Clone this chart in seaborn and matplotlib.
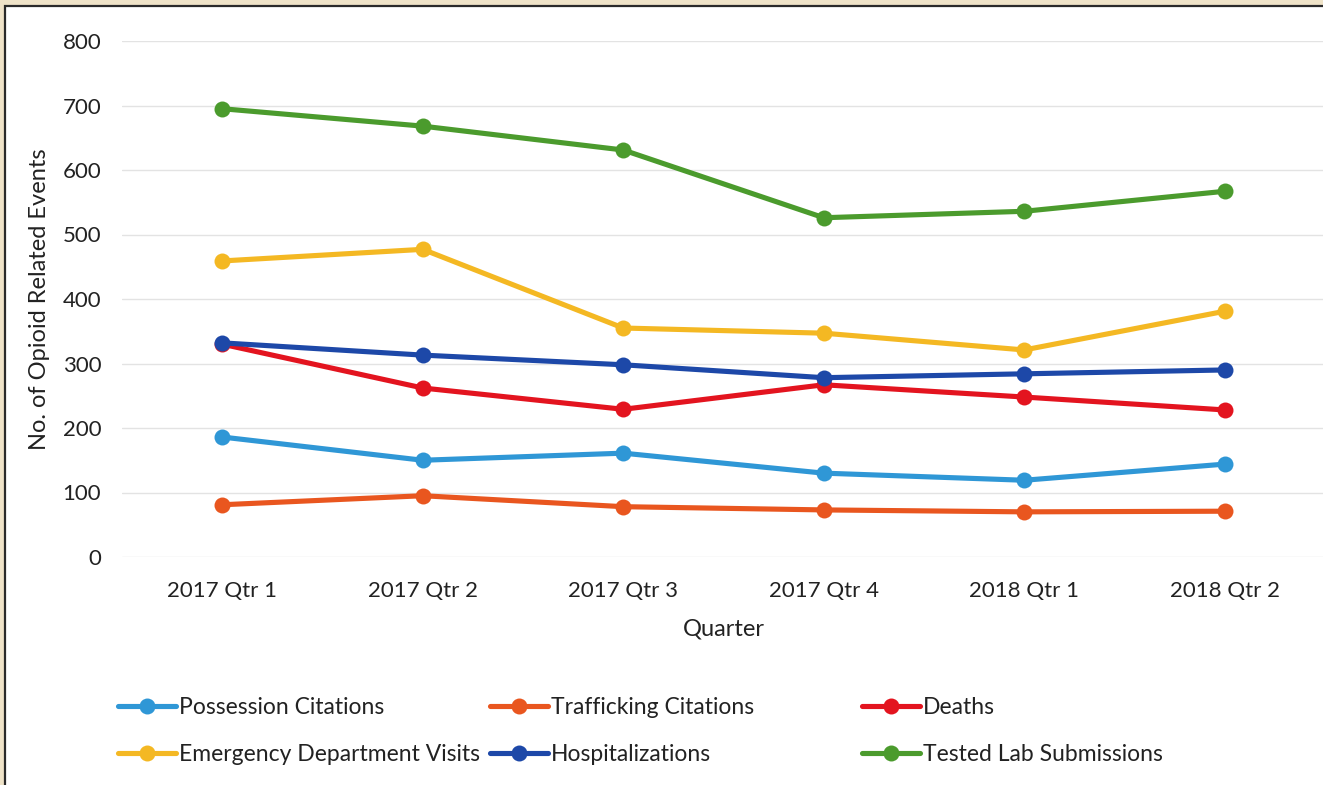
import matplotlib
matplotlib.use("Agg")
import matplotlib.pyplot as plt
from matplotlib.lines import Line2D
from matplotlib.patches import Rectangle
import pandas as pd
import seaborn as sns

quarters = ["2017 Qtr 1", "2017 Qtr 2", "2017 Qtr 3", "2017 Qtr 4", "2018 Qtr 1", "2018 Qtr 2"]

possession_citations = [186, 150, 161, 130, 119, 144]
trafficking_citations = [81, 95, 78, 73, 70, 71]
deaths = [330, 262, 229, 267, 248, 228]
ed_visits = [459, 477, 355, 347, 321, 381]
hospitalizations = [332, 313, 298, 278, 284, 290]
lab_submissions = [695, 668, 631, 526, 536, 567]

series_names = [
    "Possession Citations",
    "Trafficking Citations",
    "Deaths",
    "Emergency Department Visits",
    "Hospitalizations",
    "Tested Lab Submissions",
]
series_values = [possession_citations, trafficking_citations, deaths,
                 ed_visits, hospitalizations, lab_submissions]
series_colors = ["#2f97d6", "#e9561f", "#e3141f", "#f4b823", "#1d48a8", "#4b9b2d"]

y_ticks = [0, 100, 200, 300, 400, 500, 600, 700, 800]

rows = []
for name, vals in zip(series_names, series_values):
    for q, v in zip(quarters, vals):
        rows.append({"Quarter": q, "Events": v, "Series": name})
df = pd.DataFrame(rows)

sns.set_theme(style="white")
plt.rcParams["font.family"] = ["Lato", "DejaVu Sans"]

FS_TICK = 16
FS_LEG = 16.5
FS_LABEL = 17
TXT = "#222222"

fig = plt.figure(figsize=(13.23, 7.85), dpi=100)
fig.patch.set_facecolor("#efe3c8")

# white chart panel with a dark frame
panel = Rectangle((5 / 1323, -0.05), 1.1, (785 - 6) / 785 + 0.05,
                  transform=fig.transFigure, facecolor="white",
                  edgecolor="#2a2a2a", linewidth=1.6, zorder=-1)
fig.patches.append(panel)

ax = fig.add_axes([122 / 1323, (785 - 557) / 785, 1203 / 1323, 516 / 785])
ax.set_facecolor("none")
ax.set_zorder(1)

palette = dict(zip(series_names, series_colors))
sns.lineplot(data=df, x="Quarter", y="Events", hue="Series",
             hue_order=series_names, palette=palette, marker="o",
             markersize=11.5, markeredgewidth=0, linewidth=3.7,
             sort=False, legend=False, ax=ax)

ax.set_xlim(-0.5, len(quarters) - 0.5)
ax.set_ylim(0, 800)
ax.set_yticks(y_ticks)
ax.set_xticks(range(len(quarters)))
ax.set_xticklabels(quarters)
ax.yaxis.grid(True, color="#e3e3e3", linewidth=1.0)
ax.set_axisbelow(True)
for s in ax.spines.values():
    s.set_visible(False)
ax.tick_params(axis="both", length=0, labelsize=FS_TICK, colors=TXT)
ax.tick_params(axis="y", pad=15)
ax.tick_params(axis="x", pad=17)
ax.set_xlabel("Quarter", fontsize=FS_LABEL, color=TXT, labelpad=13)
ax.set_ylabel("No. of Opioid Related Events", fontsize=FS_LABEL, color=TXT, labelpad=9)

# legend: three columns of two entries each
columns = [[0, 3], [1, 4], [2, 5]]
col_x = [118 / 1323, 490 / 1323, 862 / 1323]
for cx, idxs in zip(col_x, columns):
    handles = [Line2D([], [], color=series_colors[i], linewidth=3.7, marker="o",
                      markersize=11.5, markeredgewidth=0) for i in idxs]
    labels = [series_names[i] for i in idxs]
    fig.legend(handles, labels, loc="upper left",
               bbox_to_anchor=(cx, (785 - 697) / 785), frameon=False,
               fontsize=FS_LEG, handlelength=2.55, handletextpad=0.12,
               labelspacing=1.12, borderaxespad=0, borderpad=0,
               labelcolor=TXT)

fig.savefig("out.png", dpi=100, facecolor=fig.get_facecolor())
